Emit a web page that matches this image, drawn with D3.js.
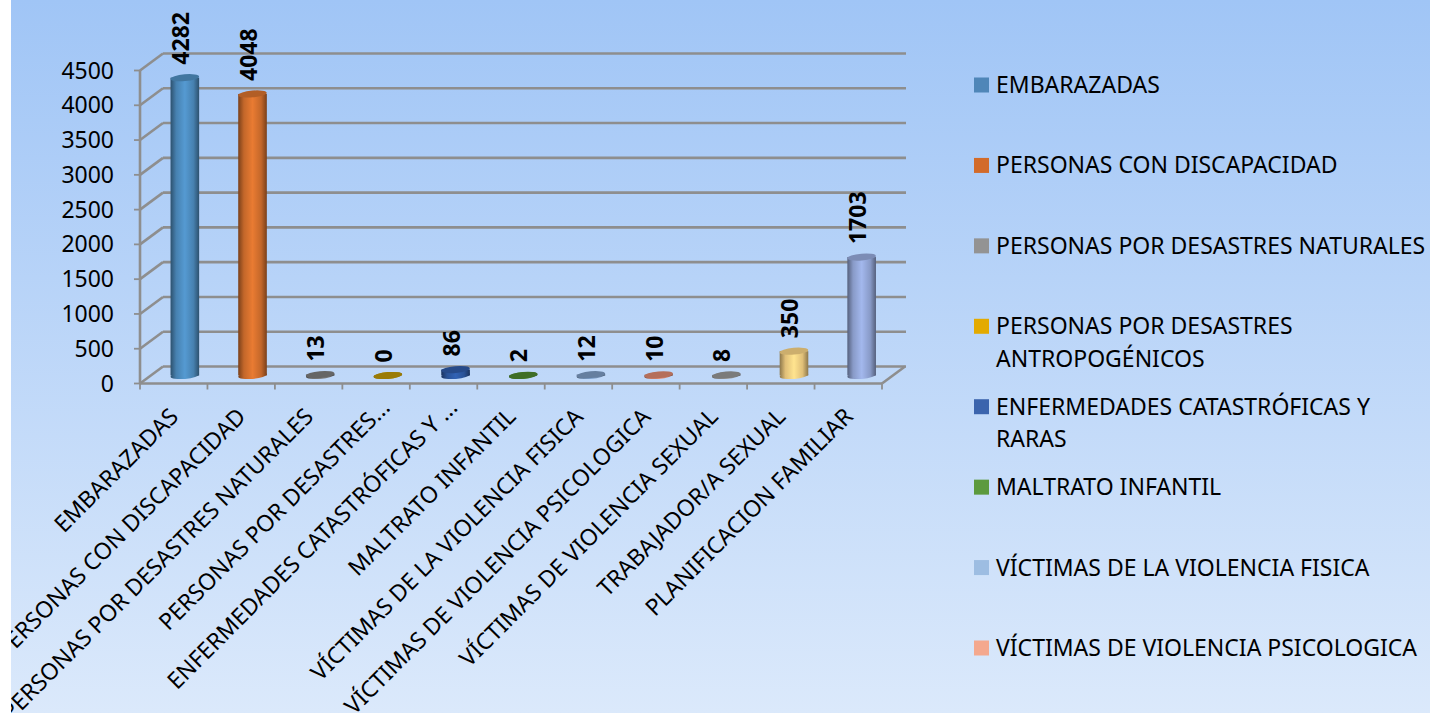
<!DOCTYPE html>
<html><head><meta charset="utf-8">
<script src="https://cdn.jsdelivr.net/npm/d3@7"></script>
<style>html,body{margin:0;padding:0;background:#fff;overflow:hidden}svg{display:block}text{font-family:"Noto Sans",sans-serif;fill:#000}</style>
</head><body><svg id="c" width="1430" height="714"></svg>
<script>
const categories=["EMBARAZADAS","PERSONAS CON DISCAPACIDAD","PERSONAS POR DESASTRES NATURALES","PERSONAS POR DESASTRES ANTROPOGÉNICOS","ENFERMEDADES CATASTRÓFICAS Y RARAS","MALTRATO INFANTIL","VÍCTIMAS DE LA VIOLENCIA FISICA","VÍCTIMAS DE VIOLENCIA PSICOLOGICA","VÍCTIMAS DE VIOLENCIA SEXUAL","TRABAJADOR/A SEXUAL","PLANIFICACION FAMILIAR"];
const axisLabels=["EMBARAZADAS","PERSONAS CON DISCAPACIDAD","PERSONAS POR DESASTRES NATURALES","PERSONAS POR DESASTRES...","ENFERMEDADES CATASTRÓFICAS Y ...","MALTRATO INFANTIL","VÍCTIMAS DE LA VIOLENCIA FISICA","VÍCTIMAS DE VIOLENCIA PSICOLOGICA","VÍCTIMAS DE VIOLENCIA SEXUAL","TRABAJADOR/A SEXUAL","PLANIFICACION FAMILIAR"];
const values=[4282,4048,13,0,86,2,12,10,8,350,1703];
const barColors=["#5193c8","#de7530","#808080","#c09a08","#2f5dab","#4f8a30","#7f9fc8","#e28b72","#9a9a9a","#ffd988","#9bafe2"];
const legendLines=[["EMBARAZADAS"],["PERSONAS CON DISCAPACIDAD"],["PERSONAS POR DESASTRES NATURALES"],["PERSONAS POR DESASTRES","ANTROPOGÉNICOS"],["ENFERMEDADES CATASTRÓFICAS Y","RARAS"],["MALTRATO INFANTIL"],["VÍCTIMAS DE LA VIOLENCIA FISICA"],["VÍCTIMAS DE VIOLENCIA PSICOLOGICA"]];
const legendColors=["#4f86b8","#d26b2a","#939393","#e3aa00","#3b64ad","#5c9a3e","#9dbde2","#f4a88e"];
const yTicks=[0,500,1000,1500,2000,2500,3000,3500,4000,4500];

const svg=d3.select("#c"),defs=svg.append("defs");
const bg=defs.append("linearGradient").attr("id","bg").attr("x1",0).attr("x2",0).attr("y1",0).attr("y2",1);
bg.append("stop").attr("offset",0).attr("stop-color","#a0c5f6");
bg.append("stop").attr("offset",1).attr("stop-color","#dbe9fb");
defs.append("clipPath").attr("id","clip").append("rect").attr("x",11).attr("y",0).attr("width",1419).attr("height",713);
const root=svg.append("g").attr("clip-path","url(#clip)");
root.append("rect").attr("x",11).attr("y",0).attr("width",1419).attr("height",713).attr("fill","url(#bg)");

const x=d3.scaleBand().domain(categories).range([140,882]);
const xBar=d3.scaleBand().domain(categories).range([151,895.5]);
const y=d3.scaleLinear().domain([0,4500]).range([383.5,70.5]);
const dx=23,dy=-17,gridCol="#8e8e8e";
const g=root.append("g");
const line=(a,b,c,d,w=2.6)=>g.append("line").attr("x1",a).attr("y1",b).attr("x2",c).attr("y2",d).attr("stroke",gridCol).attr("stroke-width",w);

yTicks.forEach(t=>{
  const p=y(t);
  line(140+dx,p+dy,906,p+dy);
  line(140,p,140+dx,p+dy);
  line(134,p,140,p,1.8);
});
line(140,y(4500),140,y(0));
line(140,y(0),882,y(0));
line(882,y(0),882+dx,y(0)+dy);
[...categories.map(c=>x(c)),882].forEach(p=>line(p,y(0),p,y(0)+6,1.8));

g.selectAll(".yl").data(yTicks).join("text").attr("class","yl")
 .attr("x",114).attr("y",d=>y(d)+8).attr("text-anchor","end").attr("font-size",23).text(d=>d);

const rx=14.3,ry=3.4,tilt=-5,base=375.5;
const h=v=>y(0)-y(v);
values.forEach((v,i)=>{
  const c=d3.rgb(barColors[i]);
  const id="b"+i;
  const gr=defs.append("linearGradient").attr("id",id);
  [[0,.55],[.2,.88],[.5,1.05],[.8,.88],[1,.55]].forEach(([o,k])=>{
    gr.append("stop").attr("offset",o).attr("stop-color",d3.rgb(c.r*k,c.g*k,c.b*k).formatHex());
  });
  const cx=xBar(categories[i])+xBar.bandwidth()/2;
  const top=base-h(v);
  const bar=g.append("g");
  bar.append("ellipse").attr("cx",cx).attr("cy",base).attr("rx",rx).attr("ry",ry)
    .attr("transform",`rotate(${tilt} ${cx} ${base})`).attr("fill",`url(#${id})`);
  bar.append("rect").attr("x",cx-rx).attr("y",top).attr("width",2*rx).attr("height",Math.max(base-top,0)).attr("fill",`url(#${id})`);
  bar.append("ellipse").attr("cx",cx).attr("cy",top).attr("rx",rx).attr("ry",ry)
    .attr("transform",`rotate(${tilt} ${cx} ${top})`)
    .attr("fill",d3.rgb(c.r*.8,c.g*.8,c.b*.8).formatHex());
  g.append("text").attr("transform",`translate(${cx+4},${top-13}) rotate(-90)`)
    .attr("font-size",23).attr("font-weight",700).text(v);
});

g.selectAll(".xl").data(axisLabels).join("text").attr("class","xl")
 .attr("transform",(d,i)=>`translate(${x(categories[i])+x.bandwidth()/2+6},${418}) rotate(-45)`)
 .attr("dx",d=>d.endsWith("...")?13:0)
 .attr("text-anchor","end").attr("font-size",23).text(d=>d);

const ly=d3.scalePoint().domain(d3.range(legendLines.length)).range([85,648]);
const leg=root.selectAll(".lg").data(legendLines).join("g").attr("class","lg");
leg.append("rect").attr("x",974).attr("y",(d,i)=>ly(i)-7.5).attr("width",15).attr("height",15).attr("fill",(d,i)=>legendColors[i]);
leg.each(function(d,i){
  d3.select(this).selectAll("text").data(d).join("text").attr("x",996)
    .attr("y",(t,j)=>ly(i)+8+j*32.5).attr("font-size",23).text(t=>t);
});
</script></body></html>
